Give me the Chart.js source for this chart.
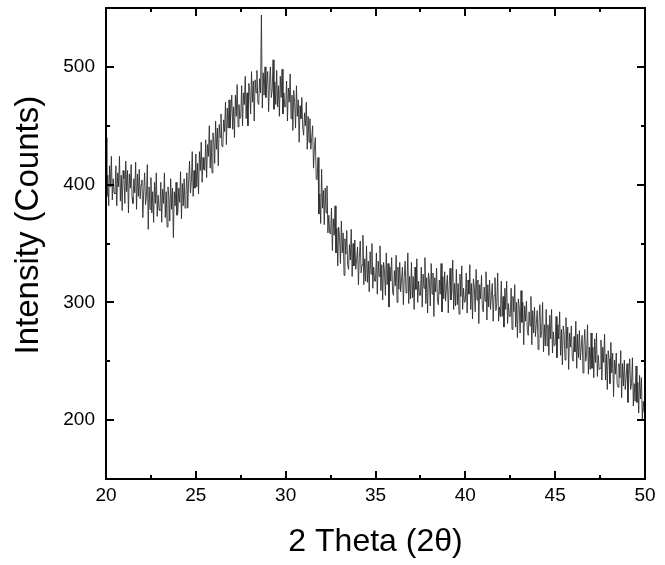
<!DOCTYPE html>
<html>
<head>
<meta charset="utf-8">
<script src="https://cdn.jsdelivr.net/npm/chart.js@4.4.0/dist/chart.umd.min.js"></script>
<style>
  html, body { margin: 0; padding: 0; background: #fff; }
  #wrap { width: 665px; height: 565px; }
</style>
</head>
<body>
<div id="wrap"><canvas id="xrd" width="665" height="565"></canvas></div>
<script>
// XRD scan: 2 theta 20..50, step 0.05 (one row = 0.5 deg)
const thetaStart = 20, thetaStep = 0.05;
const counts = [
  440, 390, 408, 382, 416, 398, 424, 387, 405, 393,
  392, 416, 382, 410, 398, 424, 386, 408, 378, 412,
  405, 384, 420, 394, 412, 376, 409, 397, 417, 389,
  384, 405, 393, 419, 379, 409, 390, 413, 388, 400,
  404, 372, 395, 410, 383, 390, 417, 362, 398, 379,
  406, 376, 394, 368, 402, 384, 410, 373, 391, 379,
  378, 402, 368, 396, 384, 410, 372, 394, 364, 398,
  390, 369, 405, 379, 397, 355, 394, 382, 402, 374,
  376, 397, 385, 411, 371, 401, 382, 405, 380, 392,
  410, 380, 403, 420, 393, 402, 428, 390, 412, 397,
  426, 398, 418, 392, 428, 412, 436, 402, 423, 413,
  412, 438, 406, 434, 424, 450, 414, 438, 410, 444,
  437, 418, 454, 430, 448, 416, 451, 440, 460, 433,
  432, 455, 445, 470, 434, 465, 448, 472, 448, 461,
  476, 447, 466, 440, 476, 458, 485, 449, 468, 456,
  458, 484, 450, 478, 468, 492, 456, 478, 450, 486,
  479, 460, 496, 470, 488, 454, 489, 478, 497, 470,
  468, 490, 478, 544, 465, 495, 476, 500, 474, 486,
  496, 462, 486, 500, 474, 480, 506, 464, 487, 468,
  497, 466, 484, 458, 492, 474, 498, 460, 478, 466,
  466, 488, 454, 482, 470, 494, 456, 476, 446, 480,
  470, 448, 484, 458, 472, 436, 467, 456, 474, 448,
  442, 461, 450, 470, 430, 458, 436, 456, 430, 440,
  450, 414, 431, 440, 405, 404, 423, 375, 392, 367,
  413, 380, 395, 366, 397, 376, 399, 359, 374, 359,
  358, 380, 344, 371, 357, 382, 342, 363, 331, 364,
  355, 333, 369, 342, 359, 323, 354, 341, 361, 332,
  328, 349, 336, 362, 322, 350, 331, 353, 328, 337,
  347, 315, 338, 352, 325, 332, 357, 315, 337, 318,
  348, 317, 335, 309, 343, 324, 350, 312, 330, 318,
  318, 342, 307, 335, 322, 348, 310, 332, 302, 334,
  327, 306, 342, 315, 333, 296, 330, 318, 338, 309,
  306, 327, 314, 340, 300, 330, 311, 334, 309, 320,
  330, 298, 321, 335, 308, 315, 342, 299, 322, 303,
  334, 304, 322, 294, 330, 311, 337, 300, 318, 306,
  306, 330, 296, 324, 312, 338, 299, 321, 291, 325,
  318, 297, 333, 307, 325, 288, 321, 309, 329, 301,
  298, 319, 307, 333, 292, 322, 303, 326, 301, 313,
  323, 291, 314, 329, 302, 309, 336, 294, 316, 297,
  328, 298, 316, 290, 324, 305, 331, 294, 312, 300,
  301, 325, 291, 319, 307, 332, 294, 316, 286, 320,
  313, 292, 328, 302, 319, 282, 315, 303, 323, 295,
  292, 313, 301, 326, 285, 315, 296, 319, 294, 306,
  316, 284, 306, 321, 293, 299, 325, 284, 296, 288,
  318, 288, 305, 279, 312, 294, 318, 282, 299, 288,
  288, 312, 277, 305, 292, 315, 279, 300, 270, 303,
  296, 274, 310, 283, 300, 264, 297, 284, 301, 276,
  272, 292, 280, 305, 264, 293, 274, 296, 271, 282,
  293, 260, 283, 298, 270, 276, 300, 258, 281, 263,
  294, 263, 281, 255, 289, 269, 294, 257, 275, 263,
  264, 288, 253, 281, 269, 292, 255, 277, 247, 280,
  273, 251, 287, 261, 279, 243, 274, 262, 280, 253,
  250, 271, 258, 284, 244, 273, 253, 276, 251, 262,
  272, 240, 263, 277, 250, 256, 281, 239, 262, 243,
  274, 244, 262, 236, 269, 249, 274, 237, 255, 243,
  244, 268, 234, 262, 249, 273, 234, 256, 226, 259,
  252, 231, 266, 240, 257, 220, 251, 239, 257, 231,
  228, 248, 236, 259, 219, 248, 229, 251, 226, 236,
  248, 215, 238, 252, 226, 231, 253, 212, 231, 216,
  246, 215, 232, 206, 238, 218, 236, 200, 216, 207,
  222
];
const theta = counts.map((_, i) => +(thetaStart + i * thetaStep).toFixed(2));

const xTicks = [20, 25, 30, 35, 40, 45, 50];
const xMinor = [22.5, 27.5, 32.5, 37.5, 42.5, 47.5];
const yTicks = [200, 300, 400, 500];
const yMinor = [150, 250, 350, 450, 550];

const FONT = "'Liberation Sans', Arial, sans-serif";

// frame + inward tick marks on all four sides
const framePlugin = {
  id: 'frame',
  afterDraw(chart) {
    const { ctx, chartArea: a, scales: { x, y } } = chart;
    ctx.save();
    ctx.strokeStyle = '#000';
    ctx.lineWidth = 2;
    ctx.strokeRect(a.left, a.top, a.right - a.left, a.bottom - a.top);
    ctx.beginPath();
    const tx = (v, len) => {
      const px = Math.round(x.getPixelForValue(v));
      ctx.moveTo(px, a.bottom); ctx.lineTo(px, a.bottom - len);
      ctx.moveTo(px, a.top);    ctx.lineTo(px, a.top + len);
    };
    const ty = (v, len) => {
      const py = Math.round(y.getPixelForValue(v));
      ctx.moveTo(a.left, py);  ctx.lineTo(a.left + len, py);
      ctx.moveTo(a.right, py); ctx.lineTo(a.right - len, py);
    };
    xTicks.forEach(v => tx(v, 8));
    xMinor.forEach(v => tx(v, 4));
    yTicks.forEach(v => ty(v, 8));
    yMinor.forEach(v => ty(v, 4));
    ctx.stroke();
    ctx.restore();
  }
};

new Chart(document.getElementById('xrd').getContext('2d'), {
  type: 'line',
  data: {
    labels: theta,
    datasets: [{
      data: counts,
      borderColor: 'rgba(40,40,40,0.85)',
      borderWidth: 1,
      pointRadius: 0,
      fill: false,
      tension: 0
    }]
  },
  options: {
    responsive: false,
    animation: false,
    layout: { padding: { top: 8, right: 20, left: 0, bottom: 0 } },
    plugins: { legend: { display: false }, tooltip: { enabled: false } },
    scales: {
      x: {
        type: 'linear', min: 20, max: 50,
        afterBuildTicks: s => { s.ticks = xTicks.map(v => ({ value: v })); },
        afterFit: s => { s.height = 86; s.paddingLeft = 0; s.paddingRight = 0; },
        grid: { display: false, drawTicks: false },
        border: { display: false },
        ticks: { color: '#000', font: { family: FONT, size: 19 }, padding: 5, maxRotation: 0 },
        title: { display: true, text: '2 Theta (2θ)', color: '#000',
                 font: { family: FONT, size: 32 }, padding: { top: 10 } }
      },
      y: {
        min: 150, max: 550,
        afterBuildTicks: s => { s.ticks = yTicks.map(v => ({ value: v })); },
        afterFit: s => { s.width = 106; s.paddingTop = 0; s.paddingBottom = 0; },
        grid: { display: false, drawTicks: false },
        border: { display: false },
        ticks: { color: '#000', font: { family: FONT, size: 19 }, padding: 11 },
        title: { display: true, text: '    Intensity (Counts)', color: '#000',
                 font: { family: FONT, size: 33 }, padding: { top: 9, bottom: 8 } }
      }
    }
  },
  plugins: [framePlugin]
});
</script>
</body>
</html>
